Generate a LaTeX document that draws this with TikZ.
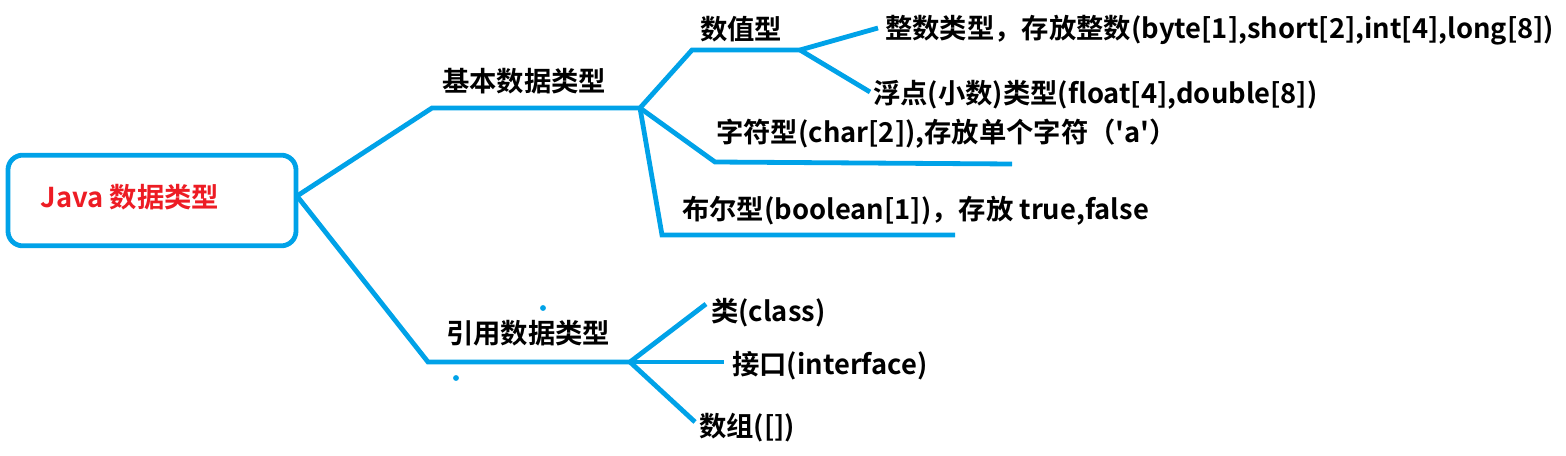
\documentclass[tikz,border=0pt]{standalone}
\usepackage{fontspec}
\setmainfont{Noto Sans CJK SC}[BoldFont={* Bold},Ligatures=TeXOff]
\definecolor{lineblue}{RGB}{0,162,232}
\definecolor{txtred}{RGB}{237,28,36}
\begin{document}
\begin{tikzpicture}[x=0.75pt,y=-0.75pt,
  lbl/.style={inner sep=0pt,anchor=west,font=\fontsize{20.5}{24}\selectfont\bfseries},
  conn/.style={draw=lineblue,line width=3.6pt,line join=miter},
  dotmark/.style={fill=lineblue,draw=none}]
\useasboundingbox (0,0) rectangle (1566,456);
% root box
\node[draw=lineblue,line width=3.6pt,rounded corners=11pt,minimum width=216pt,minimum height=68pt,inner sep=0pt] (root) at (152,200.5) {};
\node[lbl,anchor=center,text=txtred] (roottxt) at (130,197) {Java 数据类型};
% junction coordinates
\coordinate (j0) at (297,196);
\coordinate (b1) at (432,108);
\coordinate (jb) at (640,108);
\coordinate (n1) at (692,50);
\coordinate (jn) at (800,50);
\coordinate (ni) at (878,28);
\coordinate (nf) at (870,92);
\coordinate (c1) at (715,162);
\coordinate (c2) at (1012,164);
\coordinate (o1) at (662,235);
\coordinate (o2) at (955,235);
\coordinate (r1) at (428,362);
\coordinate (jr) at (630,362);
\coordinate (rc) at (706,304);
\coordinate (ri) at (724,362);
\coordinate (ra) at (695,422);
% labels
\node[lbl] (basic) at (442,81) {基本数据类型};
\node[lbl] (num) at (700,29) {数值型};
\node[lbl] (int) at (885,30) {整数类型，存放整数(byte[1],short[2],int[4],long[8])};
\node[lbl] (flt) at (873,95) {浮点(小数)类型(float[4],double[8])};
\node[lbl] (chr) at (716,134) {字符型(char[2]),存放单个字符（'a'）};
\node[lbl] (bool) at (682,211) {布尔型(boolean[1])，存放 true,false};
\node[lbl] (ref) at (446,333) {引用数据类型};
\node[lbl] (cls) at (711,313) {类(class)};
\node[lbl] (ifc) at (732,366) {接口(interface)};
\node[lbl] (arr) at (699,428) {数组([])};
% connectors
\draw[conn] (j0) -- (b1) -- (jb);
\draw[conn] (jb) -- (n1) -- (jn);
\draw[conn] (jn) -- (ni);
\draw[conn] (jn) -- (nf);
\draw[conn] (jb) -- (c1) -- (c2);
\draw[conn] (jb) -- (o1) -- (o2);
\draw[conn] (j0) -- (r1) -- (jr);
\draw[conn] (jr) -- (rc);
\draw[conn] (jr) -- (ri);
\draw[conn] (jr) -- (ra);
% stray dots
\fill[dotmark] (543,308) circle (2.2pt);
\fill[dotmark] (456,378) circle (2.2pt);
\end{tikzpicture}
\end{document}
